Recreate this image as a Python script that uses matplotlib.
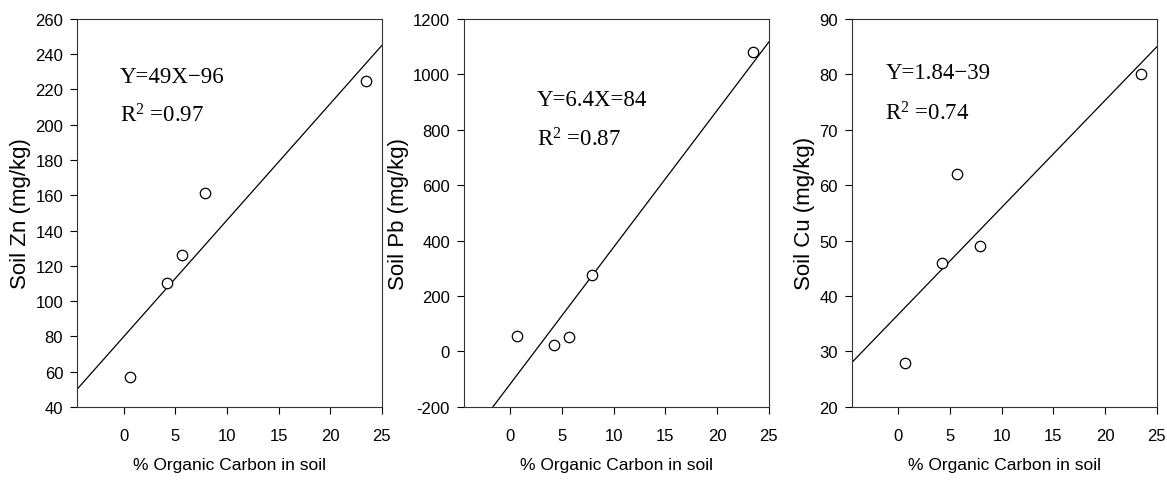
import matplotlib
matplotlib.use("Agg")
import matplotlib.pyplot as plt
import numpy as np

plt.rcParams['font.family'] = 'Liberation Sans'
plt.rcParams['axes.unicode_minus'] = False
plt.rcParams['mathtext.fontset'] = 'custom'
plt.rcParams['mathtext.rm'] = 'Liberation Serif'
plt.rcParams['mathtext.it'] = 'Liberation Serif:italic'

# % organic carbon (same for all three panels)
carbon = [0.6, 4.2, 5.7, 7.9, 23.5]

# soil metal concentrations (mg/kg)
zn = [57, 110, 126, 161, 225]
pb = [55, 22, 52, 275, 1080]
cu = [28, 46, 62, 49, 80]

# regression lines as drawn (slope, intercept)
zn_fit = (6.61, 79.7)
pb_fit = (49.3, -116)
cu_fit = (1.93, 36.7)

eq_text = ["Y=49X\u221296", "Y=6.4X=84", "Y=1.84\u221239"]
r2_text = ["0.97", "0.87", "0.74"]
ylabels = ["Soil Zn (mg/kg)", "Soil Pb (mg/kg)", "Soil Cu (mg/kg)"]
ylims = [(40, 260), (-200, 1200), (20, 90)]
ysteps = [20, 200, 10]

xlim = (-4.5, 25)

fig = plt.figure(figsize=(11.67, 4.85), dpi=100)
lefts = [0.066, 0.3976, 0.730]
text_pos = [(0.14, 0.852, 0.752), (0.24, 0.792, 0.69), (0.11, 0.862, 0.758)]

for i, (vals, fit) in enumerate(zip([zn, pb, cu], [zn_fit, pb_fit, cu_fit])):
    ax = fig.add_axes([lefts[i], 0.159, 0.2612, 0.8])
    xs = np.array(xlim)
    ax.plot(xs, fit[0]*xs + fit[1], color='black', lw=0.9)
    ax.plot(carbon, vals, 'o', mfc='white', mec='black', ms=7.5, mew=0.9)
    ax.set_xlim(xlim)
    ax.set_ylim(ylims[i])
    ax.set_xticks([0, 5, 10, 15, 20, 25])
    ax.set_yticks(np.arange(ylims[i][0], ylims[i][1] + 1, ysteps[i]))
    ax.tick_params(direction='out', labelsize=12, length=5, width=0.8, pad=5)
    ax.tick_params(axis='x', pad=10)
    for s in ax.spines.values():
        s.set_linewidth(0.8)
        s.set_color('#333333')
    ax.set_xlabel("% Organic Carbon in soil", fontsize=12.5, labelpad=10)
    ax.set_ylabel(ylabels[i], fontsize=16, labelpad=3)
    tx, ty1, ty2 = text_pos[i]
    ax.text(tx, ty1, eq_text[i], transform=ax.transAxes, fontsize=16.5,
            family='Liberation Serif', va='center', ha='left')
    ax.text(tx, ty2, r"$\mathrm{R}^{2}$ =" + r2_text[i], transform=ax.transAxes, fontsize=16.5,
            family='Liberation Serif', va='center', ha='left')

fig.savefig("out.png", dpi=100)
